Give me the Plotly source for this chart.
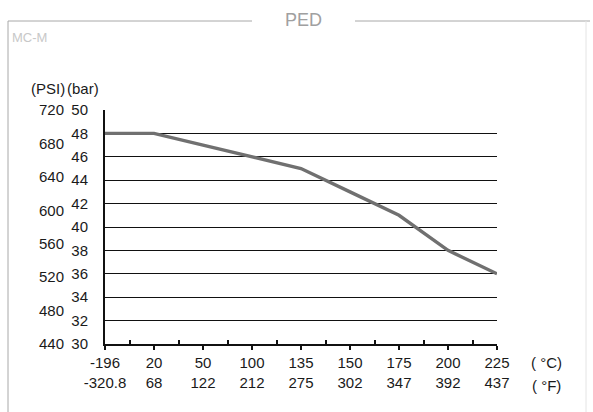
import plotly.graph_objects as go

# Temperature categories (two unit rows) and rated pressure
temp_c = ["-196", "20", "50", "100", "135", "150", "175", "200", "225"]
temp_f = ["-320.8", "68", "122", "212", "275", "302", "347", "392", "437"]
pressure_bar = [48, 48, 47, 46, 45, 43, 41, 38, 36]

bar_ticks = [30, 32, 34, 36, 38, 40, 42, 44, 46, 48, 50]
psi_ticks = [440, 480, 520, 560, 600, 640, 680, 720]

W, H = 593, 412
FONT = "Liberation Sans Narrow, Arial Narrow, Liberation Sans, sans-serif"
x_pos = list(range(len(temp_c)))

fig = go.Figure()
fig.add_trace(go.Scatter(
    x=x_pos, y=pressure_bar, mode="lines",
    line=dict(color="#707070", width=3.4),
    hoverinfo="skip", showlegend=False,
))
# invisible trace to bring up the PSI axis
fig.add_trace(go.Scatter(x=[0], y=[440], yaxis="y2", mode="markers",
                         marker=dict(opacity=0), showlegend=False, hoverinfo="skip"))

x0, x1 = 105 / W, 497 / W
y0, y1 = 1 - 344 / H, 1 - 110 / H

fig.update_layout(
    width=W, height=H,
    margin=dict(l=0, r=0, t=0, b=0, autoexpand=False),
    paper_bgcolor="white", plot_bgcolor="white",
    font=dict(family=FONT, size=15, color="#1a1a1a"),
    xaxis=dict(
        domain=[x0, x1], range=[0, len(temp_c) - 1],
        tickvals=x_pos,
        ticktext=[f"{c}<br>{f}" for c, f in zip(temp_c, temp_f)],
        ticks="outside", ticklen=4, tickwidth=1.5, tickcolor="#111",
        minor=dict(ticks="inside", tick0=0.5, dtick=1, ticklen=4, tickwidth=1.5, tickcolor="#111"),
        showline=True, linecolor="#111", linewidth=2,
        showgrid=False, zeroline=False, fixedrange=True,
    ),
    yaxis=dict(
        domain=[y0, y1], range=[30, 50],
        tickvals=bar_ticks, ticks="", ticklabelstandoff=12,
        showline=True, linecolor="#111", linewidth=2,
        showgrid=True, gridcolor="#111", gridwidth=1.3,
        zeroline=False, fixedrange=True,
    ),
    yaxis2=dict(
        range=[440, 720], overlaying="y", side="left", anchor="free",
        position=64 / W, tickvals=psi_ticks, ticks="", ticklabelstandoff=0,
        showline=False, showgrid=False, zeroline=False, fixedrange=True,
    ),
)

# axis unit labels
fig.add_annotation(x=48 / W, y=1 - 88 / H, xref="paper", yref="paper",
                   text="(PSI)", showarrow=False, xanchor="center", yanchor="middle")
fig.add_annotation(x=83 / W, y=1 - 88 / H, xref="paper", yref="paper",
                   text="(bar)", showarrow=False, xanchor="center", yanchor="middle")
fig.add_annotation(x=546 / W, y=1 - 362 / H, xref="paper", yref="paper",
                   text="( °C)", showarrow=False, xanchor="center", yanchor="middle")
fig.add_annotation(x=546 / W, y=1 - 385 / H, xref="paper", yref="paper",
                   text="( °F)", showarrow=False, xanchor="center", yanchor="middle")

# panel header
fig.add_annotation(x=303 / W, y=1 - 20 / H, xref="paper", yref="paper",
                   text="PED", showarrow=False, xanchor="center", yanchor="middle",
                   font=dict(family="Liberation Sans, sans-serif", size=18, color="#a0a0a0"))
fig.add_annotation(x=10 / W, y=1 - 38 / H, xref="paper", yref="paper",
                   text="MC-M", showarrow=False, xanchor="left", yanchor="middle",
                   font=dict(family="Liberation Sans, sans-serif", size=13, color="#c8c8c8"))

# panel frame with a gap for the header
frame = dict(type="line", xref="paper", yref="paper",
             line=dict(color="#a8a8a8", width=1))
fig.add_shape(**frame, x0=8 / W, x1=252 / W, y0=1 - 21 / H, y1=1 - 21 / H)
fig.add_shape(**frame, x0=355 / W, x1=590 / W, y0=1 - 21 / H, y1=1 - 21 / H)
fig.add_shape(**frame, x0=8 / W, x1=8 / W, y0=1 - 21 / H, y1=0)
fig.add_shape(type="line", xref="paper", yref="paper",
              line=dict(color="#e4e4e4", width=1),
              x0=586 / W, x1=586 / W, y0=1 - 21 / H, y1=0)

fig.write_html("out.html")
